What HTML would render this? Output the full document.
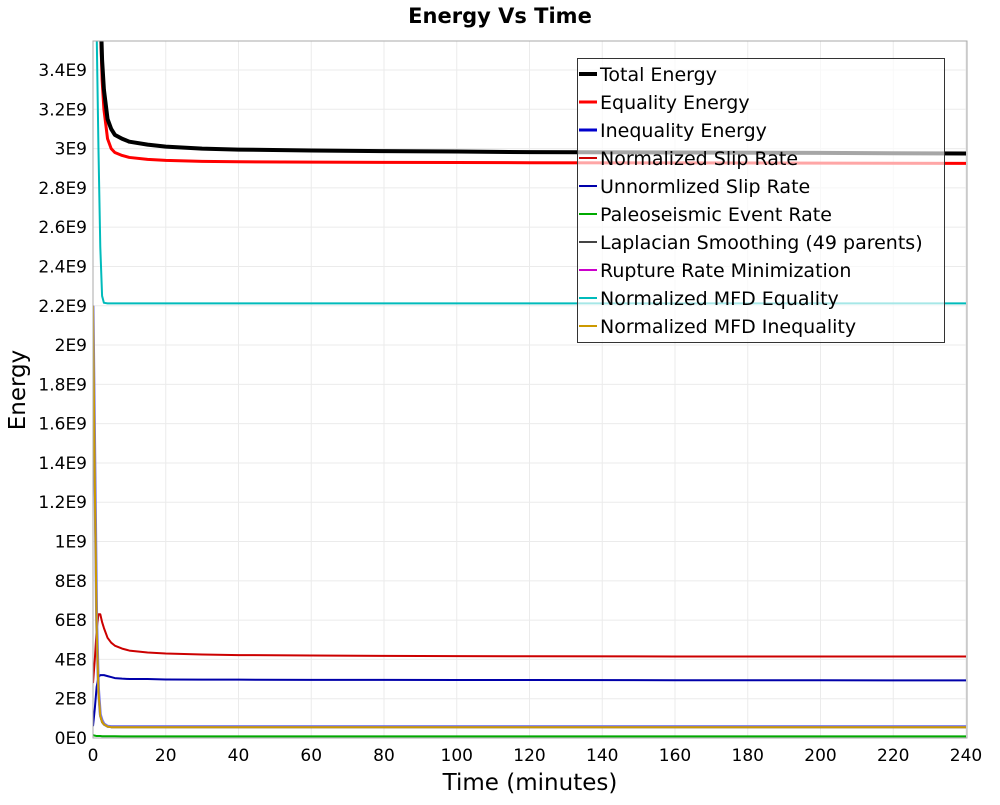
<!DOCTYPE html>
<html><head><meta charset="utf-8"><style>
body{margin:0;background:#fff;}
svg text{font-family:"DejaVu Sans","Liberation Sans",sans-serif;}
</style></head><body>
<svg id="chart" width="1000" height="800" xmlns="http://www.w3.org/2000/svg">
<text x="500" y="23" text-anchor="middle" font-size="21" font-weight="bold">Energy Vs Time</text>
<g id="grid"></g>
<defs><clipPath id="pc"><rect x="93" y="41" width="874" height="697"/></clipPath></defs>
<g id="series" clip-path="url(#pc)"></g>
<rect x="93" y="41" width="874" height="697" fill="none" stroke="#aaa"/>
<g id="ticks"></g>
<text x="530" y="790" text-anchor="middle" font-size="23">Time (minutes)</text>
<text transform="translate(25,390) rotate(-90)" text-anchor="middle" font-size="23">Energy</text>
<g id="legend"></g>
</svg>
<script>
const times=[0,0.5,1,1.5,2,2.5,3,4,5,6,8,10,15,20,30,40,60,80,100,120,160,200,240];
const totalEnergy=[9,7,5.5,4.3,3.75,3.45,3.3,3.15,3.1,3.07,3.05,3.035,3.02,3.01,3.0,2.995,2.99,2.987,2.985,2.982,2.98,2.978,2.975].map(v=>v*1e9);
const equalityEnergy=[9,7,5.3,4.2,3.65,3.35,3.2,3.05,3.0,2.98,2.965,2.955,2.945,2.94,2.935,2.933,2.931,2.93,2.929,2.928,2.927,2.926,2.925].map(v=>v*1e9);
const inequalityEnergy=[22,14,6,2.5,1.2,0.9,0.72,0.6,0.58,0.58,0.58,0.58,0.58,0.58,0.58,0.58,0.58,0.58,0.58,0.58,0.58,0.58,0.58].map(v=>v*1e8);
const normSlip=[2.8,4.0,5.5,6.3,6.3,5.9,5.6,5.1,4.85,4.7,4.55,4.45,4.35,4.3,4.25,4.22,4.2,4.18,4.17,4.16,4.15,4.15,4.15].map(v=>v*1e8);
const unnormSlip=[0.6,1.5,2.6,3.1,3.2,3.2,3.2,3.15,3.1,3.05,3.02,3.0,3.0,2.98,2.97,2.97,2.96,2.96,2.95,2.95,2.94,2.94,2.93].map(v=>v*1e8);
const paleo=[0.15,0.12,0.1,0.1,0.1,0.09,0.09,0.09,0.09,0.09,0.08,0.08,0.08,0.08,0.08,0.08,0.08,0.08,0.08,0.08,0.08,0.08,0.08].map(v=>v*1e8);
const laplacian=[22,13,5.5,2.3,1.1,0.8,0.68,0.58,0.55,0.55,0.55,0.55,0.55,0.55,0.55,0.55,0.55,0.55,0.55,0.55,0.55,0.55,0.55].map(v=>v*1e8);
const ruptureMin=[22,13.5,5.8,2.4,1.15,0.85,0.7,0.6,0.57,0.57,0.57,0.57,0.57,0.57,0.57,0.57,0.57,0.57,0.57,0.57,0.57,0.57,0.57].map(v=>v*1e8);
const mfdEquality=[38,37,36,30,25,22.5,22.15,22.12,22.12,22.12,22.12,22.12,22.12,22.12,22.12,22.12,22.12,22.12,22.12,22.12,22.12,22.12,22.12].map(v=>v*1e8);
const mfdInequality=[22,13,5.6,2.35,1.12,0.82,0.69,0.58,0.55,0.55,0.55,0.55,0.55,0.55,0.55,0.55,0.55,0.55,0.55,0.55,0.55,0.55,0.55].map(v=>v*1e8);
const xTicks=[0,20,40,60,80,100,120,140,160,180,200,220,240];
const yTickLabels=["0E0","2E8","4E8","6E8","8E8","1E9","1.2E9","1.4E9","1.6E9","1.8E9","2E9","2.2E9","2.4E9","2.6E9","2.8E9","3E9","3.2E9","3.4E9"];
const yTickValues=yTickLabels.map((s,i)=>i*2e8);
const seriesNames=["Total Energy","Equality Energy","Inequality Energy","Normalized Slip Rate","Unnormlized Slip Rate","Paleoseismic Event Rate","Laplacian Smoothing (49 parents)","Rupture Rate Minimization","Normalized MFD Equality","Normalized MFD Inequality"];
const seriesData=[totalEnergy,equalityEnergy,inequalityEnergy,normSlip,unnormSlip,paleo,laplacian,ruptureMin,mfdEquality,mfdInequality];
const colors=["#000","#f00","#00c","#c00","#00a","#0a0","#444","#c0c","#0bb","#c90"];
const widths=[4,3,3,2,2,2,2,2,2,2];
const X=t=>93+t*(873/240);
const Y=v=>738-v*(668/3.4e9);
const NS="http://www.w3.org/2000/svg";
function mk(tag,attrs,parent){const e=document.createElementNS(NS,tag);for(const k in attrs)e.setAttribute(k,attrs[k]);parent.appendChild(e);return e;}
const grid=document.getElementById('grid'),ticks=document.getElementById('ticks'),ser=document.getElementById('series'),leg=document.getElementById('legend');
xTicks.forEach(t=>{
 const l=mk('line',{x1:X(t),x2:X(t),y1:41,y2:738,stroke:'#ebebeb'},grid);
 
 
 const tx=mk('text',{x:X(t),y:761,'text-anchor':'middle','font-size':17},ticks);
 tx.textContent=t;
 
 
});
yTickValues.forEach((v,i)=>{
 const l=mk('line',{x1:93,x2:967,y1:Y(v),y2:Y(v),stroke:'#ebebeb'},grid);
 
 
 const tx=mk('text',{x:87,y:Y(v)+6,'text-anchor':'end','font-size':17},ticks);
 tx.textContent=yTickLabels[i];
 
 
});
const order=[5,4,3,6,7,2,9,8,1,0];
order.forEach(i=>{
 const d=seriesData[i].map((v,j)=>(j?'L':'M')+X(times[j]).toFixed(2)+','+Y(v).toFixed(2)).join('');
 const p=mk('path',{d:d,fill:'none',stroke:i===2?'#7777ee':colors[i],'stroke-width':widths[i],'stroke-linejoin':'round'},ser);
 
 
});
const box=mk('rect',{x:577.5,y:58.5,width:367,height:284,fill:'rgba(255,255,255,0.65)',stroke:'#333'},leg);


seriesNames.forEach((n,i)=>{
 const y=74+i*28;
 const l=mk('line',{x1:579,x2:597,y1:y,y2:y,stroke:colors[i],'stroke-width':widths[i]},leg);
 
 
 const tx=mk('text',{x:600,y:y+7,'font-size':19},leg);
 tx.textContent=n;
 
 
});
</script>
</body></html>
